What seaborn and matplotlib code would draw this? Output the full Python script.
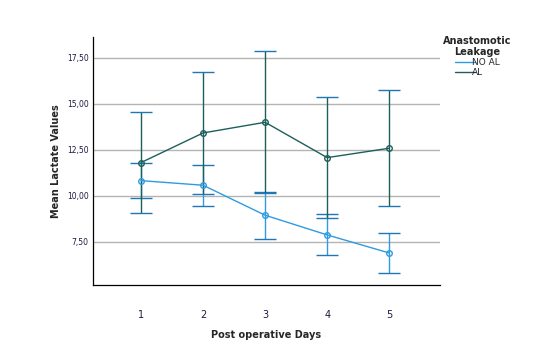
import matplotlib
matplotlib.use('Agg')
import matplotlib.pyplot as plt
from matplotlib.ticker import FuncFormatter
import seaborn as sns
import pandas as pd

# Mean lactate per post-operative day, with interval ends
days = [1, 2, 3, 4, 5]
no_al_mean = [10.83, 10.58, 8.95, 7.88, 6.90]
no_al_low = [9.91, 9.46, 7.65, 6.78, 5.83]
no_al_high = [11.78, 11.70, 10.22, 9.00, 7.99]
al_mean = [11.81, 13.42, 14.00, 12.08, 12.59]
al_low = [9.08, 10.10, 10.15, 8.79, 9.46]
al_high = [14.58, 16.74, 17.86, 15.36, 15.74]
groups = ['NO AL', 'AL']
colors = {'NO AL': '#2f9be0', 'AL': '#1d5f5b'}

df = pd.DataFrame({
    'day': days * 2,
    'mean': no_al_mean + al_mean,
    'low': no_al_low + al_low,
    'high': no_al_high + al_high,
    'group': ['NO AL'] * 5 + ['AL'] * 5,
})

sns.set_style('white')
fig = plt.figure(figsize=(5.6, 3.57), dpi=100)
ax = fig.add_axes([0.166, 0.2017, 0.62, 0.695])

for g in groups:
    sub = df[df['group'] == g]
    ax.errorbar(sub['day'], sub['mean'],
                yerr=[sub['mean'] - sub['low'], sub['high'] - sub['mean']],
                fmt='none', ecolor=colors[g], elinewidth=1.0, capsize=8, capthick=1.0, zorder=2)

sns.lineplot(data=df, x='day', y='mean', hue='group', hue_order=groups, palette=colors,
             marker='o', markersize=4, markerfacecolor='none', markeredgewidth=1.0,
             linewidth=1.0, ax=ax, zorder=3)
for line in ax.lines:
    line.set_markeredgecolor(line.get_color())
    line.set_markerfacecolor('none')

ax.set_xlim(0.226, 5.82)
ax.set_ylim(5.16, 18.64)
ax.set_xticks(days)
ax.set_yticks([7.5, 10.0, 12.5, 15.0, 17.5])
ax.yaxis.set_major_formatter(FuncFormatter(lambda v, p: f'{v:.2f}'.replace('.', ',')))
ax.yaxis.grid(True, color='#b4b4b4', linewidth=1.0)
ax.xaxis.grid(False)
ax.set_axisbelow(True)
ax.tick_params(axis='x', length=0, pad=18, labelsize=7, labelcolor='#1a1a40')
ax.tick_params(axis='y', length=0, pad=3, labelsize=5.5, labelcolor='#1a1a40')
for s in ['top', 'right']:
    ax.spines[s].set_visible(False)
for s in ['left', 'bottom']:
    ax.spines[s].set_color('black')
    ax.spines[s].set_linewidth(0.9)

ax.set_xlabel('Post operative Days', fontsize=7, fontweight='bold', labelpad=7)
ax.set_ylabel('Mean Lactate Values', fontsize=7, fontweight='bold', labelpad=4)

handles, labels = ax.get_legend_handles_labels()
for h in handles:
    h.set_marker('')
leg = ax.legend(handles, labels, title='Anastomotic\nLeakage', loc='upper left',
                bbox_to_anchor=(0.99, 1.03), frameon=False, fontsize=6.5,
                title_fontproperties={'weight': 'bold', 'size': 7},
                handlelength=2.2, handletextpad=-0.3, labelspacing=0.1, borderaxespad=0.3)
leg.get_title().set_multialignment('center')
leg._legend_box.align = 'center'

fig.savefig('out.png', dpi=100)
